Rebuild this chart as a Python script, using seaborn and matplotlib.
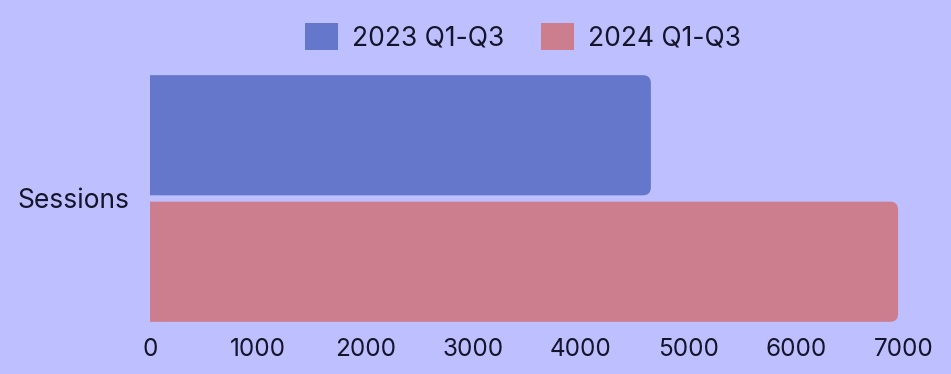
import matplotlib
matplotlib.use("Agg")
import matplotlib.pyplot as plt
import seaborn as sns
import pandas as pd
from matplotlib.patches import FancyBboxPatch, Patch

categories = ["Sessions"]
series = ["2023 Q1-Q3", "2024 Q1-Q3"]
values_2023 = [4650]
values_2024 = [6945]
xticks = [0, 1000, 2000, 3000, 4000, 5000, 6000, 7000]

bg = "#BDBFFE"
colors = ["#6477CB", "#CD7E8E"]
text_color = "#14142A"

df = pd.DataFrame({
    "metric": categories * 2,
    "period": [series[0]] * len(categories) + [series[1]] * len(categories),
    "value": values_2023 + values_2024,
})

sns.set_theme(style="white")
plt.rcParams["font.family"] = ["Inter", "DejaVu Sans"]

fig = plt.figure(figsize=(9.51, 3.74), dpi=100, facecolor=bg)
ax = fig.add_axes([150/951, 49/374, 754/951, 253/374])
ax.set_facecolor(bg)

sns.barplot(data=df, y="metric", x="value", hue="period", palette=colors,
            orient="h", width=1.0, gap=0.05, ax=ax, legend=False,
            linewidth=0, saturation=1)

ax.set_xlim(0, 7000)
ax.set_ylim(0.5, -0.5)
ax.set_xticks(xticks)
ax.set_xticklabels([str(t) for t in xticks])
for s in ax.spines.values():
    s.set_visible(False)
ax.tick_params(axis="x", length=0, pad=9, labelsize=17.5, labelcolor=text_color)
ax.tick_params(axis="y", length=0, pad=15, labelsize=19, labelcolor=text_color)
ax.set_xlabel("")
ax.set_ylabel("")

# rounded right corners
fig.canvas.draw()
inv = ax.transData.inverted()
p0 = inv.transform((0, 0)); p1 = inv.transform((1, 1))
xu = abs(p1[0] - p0[0]); yu = abs(p1[1] - p0[1])
radius_px = 8
for bar in list(ax.patches):
    x0, y0 = bar.get_x(), bar.get_y()
    w, h = bar.get_width(), bar.get_height()
    fc = bar.get_facecolor()
    bar.remove()
    ext = radius_px * 2 * xu
    fb = FancyBboxPatch((x0 - ext, y0), w + ext, h,
                        boxstyle=f"round,pad=0,rounding_size={radius_px*xu}",
                        mutation_aspect=yu / xu, facecolor=fc, edgecolor="none",
                        clip_on=True)
    ax.add_patch(fb)
    fb.set_clip_path(ax.patch)

handles = [Patch(facecolor=c, edgecolor="none", label=l) for c, l in zip(colors, series)]
fig.legend(handles=handles, loc="center", bbox_to_anchor=(523/951, 1 - 37/374),
           ncol=2, frameon=False, fontsize=19, handlelength=1.25, handleheight=1.25,
           handletextpad=0.53, columnspacing=1.36, labelcolor=text_color)

fig.savefig("out.png", dpi=100, facecolor=bg)
